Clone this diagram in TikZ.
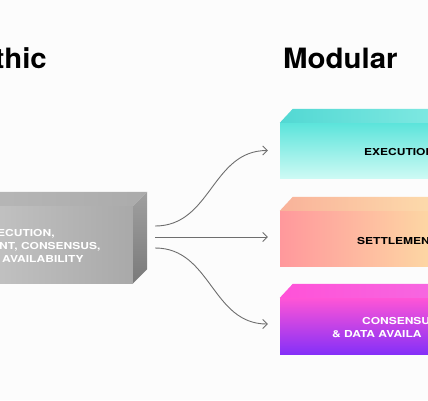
\documentclass[tikz,border=0pt]{standalone}
\usepackage{fontspec}
\setmainfont{TeX Gyre Heros}
\newfontfamily\titlefont[FakeStretch=1.05]{TeX Gyre Heros}
\newfontfamily\boxfont[FakeStretch=1.25]{TeX Gyre Heros}
\usetikzlibrary{arrows.meta}
\usetikzlibrary{positioning}
\usetikzlibrary{calc}

\definecolor{paper}{HTML}{FCFCFC}
\definecolor{linkgray}{HTML}{6E6E6E}
\definecolor{monoA}{HTML}{C9C9C9}
\definecolor{monoB}{HTML}{A9A9A9}
\definecolor{monoTopA}{HTML}{B9B9B9}
\definecolor{monoTopB}{HTML}{ABABAB}
\definecolor{monoSideA}{HTML}{A0A0A0}
\definecolor{monoSideB}{HTML}{7A7A7A}
\definecolor{execA}{HTML}{5CE4DB}
\definecolor{execB}{HTML}{CDFAF4}
\definecolor{execTopA}{HTML}{52D8D3}
\definecolor{execTopB}{HTML}{86EBE4}
\definecolor{settleA}{HTML}{FDDDA4}
\definecolor{settleB}{HTML}{FF989C}
\definecolor{settleTopA}{HTML}{F9B29A}
\definecolor{settleTopB}{HTML}{FDE2AE}
\definecolor{consA}{HTML}{FF55D6}
\definecolor{consB}{HTML}{8530F8}
\definecolor{consTopA}{HTML}{FF52D8}
\definecolor{consTopB}{HTML}{F56AE2}

\begin{document}
\begin{tikzpicture}[x=1pt, y=-1pt,
    title/.style={font=\titlefont\bfseries\fontsize{28}{30}\selectfont, text=black, inner sep=0pt},
    boxtext/.style={font=\boxfont\bfseries\fontsize{9.6}{11}\selectfont, inner sep=0pt},
    face/.style={rectangle, draw=none, inner sep=0pt},
    link/.style={draw=linkgray, line width=0.9pt, -{Straight Barb[length=4.5pt,width=9pt]}}]

      \useasboundingbox (0,0) rectangle (428,400);
      \clip (0,0) rectangle (428,400);
      \fill[paper] (0,0) rectangle (428,400);

      % Depth of the blocks
      \def\depth{14}

      % Titles
      \node[title, anchor=base east] (monotitle) at (47,68) {thic};
      \node[title, anchor=base west] (modtitle) at (283,68) {Modular};

      % Monolithic block
      \node[face, minimum width=183pt, minimum height=77pt,
            left color=monoA, right color=monoB] (mono) at (41.5,244.5) {};
      \shade[left color=monoTopA, right color=monoTopB] (mono.north west) -- ++(\depth,-\depth)
        -- ($(mono.north east)+(\depth,-\depth)$) -- (mono.north east) -- cycle;
      \shade[top color=monoSideA, bottom color=monoSideB] (mono.north east) -- ++(\depth,-\depth)
        -- ($(mono.south east)+(\depth,-\depth)$) -- (mono.south east) -- cycle;
      \node[boxtext, text=white, anchor=base west] (monoline1) at (-3,236.7) {ECUTION,};
      \node[boxtext, text=white, anchor=base west] (monoline2) at (-1,249.3) {NT, CONSENSUS,};
      \node[boxtext, text=white, anchor=base west] (monoline3) at (2,262.3) {AVAILABILITY};

      % Modular blocks
      \foreach \name/\yc/\hgt/\shading/\topA/\topB in {
          exec/150.5/55/{shading angle=-20, top color=execA, bottom color=execB}/execTopA/execTopB,
          settle/238.5/55/{left color=settleB, right color=settleA}/settleTopA/settleTopB,
          cons/326/56/{shading angle=-25, top color=consA, bottom color=consB}/consTopA/consTopB} {
        \node[face, minimum width=165pt, minimum height=\hgt pt, /utils/exec={\edef\next{\noexpand\tikzset{fshade/.style={\shading}}}\next}, fshade] (\name) at (362.5,\yc) {};
        \shade[left color=\topA, right color=\topB] (\name.north west) -- ++(\depth-1,-\depth)
          -- ($(\name.north east)+(\depth,-\depth)$) -- (\name.north east) -- cycle;
      }

      \node[boxtext, text=black, anchor=base west] (execlabel) at (364,155.5) {EXECUTION};
      \node[boxtext, text=black, anchor=base west] (settlelabel) at (357,244) {SETTLEMEN};
      \node[boxtext, text=white, anchor=base west] (conslabel1) at (362,324) {CONSENSU};
      \node[boxtext, text=white, anchor=base west] (conslabel2) at (332,337.7) {\& DATA AVAILA};

      % Arrows from the monolithic block to the layers
      \draw[link] ([shift={(22pt,18.5pt)}]mono.east) .. controls +(56,0) and +(-56,0) .. ([xshift=-12pt]exec.west);
      \draw[link] ([shift={(22pt,7.5pt)}]mono.east) -- ([shift={(-12pt,1.5pt)}]settle.west);
      \draw[link] ([shift={(22pt,-3.5pt)}]mono.east) .. controls +(56,0) and +(-56,0) .. ([shift={(-12pt,2pt)}]cons.west);

    \end{tikzpicture}
\end{document}
